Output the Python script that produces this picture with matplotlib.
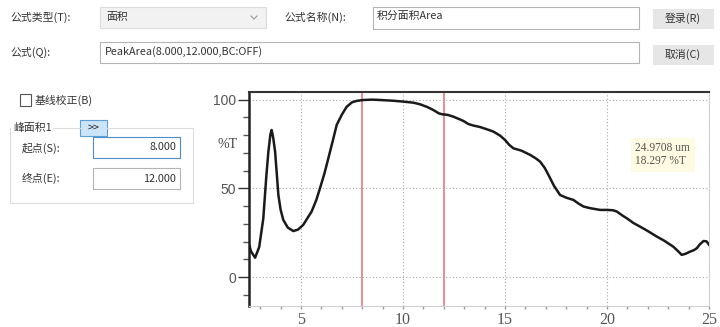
import matplotlib.pyplot as plt
from matplotlib.patches import Rectangle
from matplotlib.ticker import MultipleLocator

plt.rcParams['font.family'] = ['Noto Sans CJK SC', 'DejaVu Sans']

# 光谱数据 (波长 um, %T)
wavelength = [2.42, 2.55, 2.75, 2.95, 3.15, 3.30, 3.40, 3.50, 3.56, 3.63, 3.73, 3.82,
              3.89, 4.00, 4.13, 4.35, 4.62, 4.85, 5.11, 5.30, 5.52, 5.75, 5.93, 6.15,
              6.34, 6.55, 6.75, 7.00, 7.24, 7.50, 7.73, 8.05, 8.50, 8.87, 9.50, 10.0,
              10.5, 10.83, 11.2, 11.48, 11.75, 11.9, 12.2, 12.47, 12.7, 12.96, 13.2,
              13.45, 13.77, 14.19, 14.43, 14.75, 15.0, 15.2, 15.41, 15.8, 16.23, 16.5,
              16.72, 16.95, 17.13, 17.4, 17.7, 18.0, 18.36, 18.6, 18.85, 19.17, 19.66,
              20.0, 20.3, 20.48, 20.75, 20.97, 21.3, 21.62, 22.0, 22.44, 22.8, 23.25,
              23.5, 23.66, 23.85, 24.07, 24.25, 24.4, 24.55, 24.73, 24.88, 25.0]
transmittance = [20.0, 14.5, 11.0, 17.0, 33.0, 57.0, 70.7, 80.5, 82.9, 79.0, 70.7, 57.0,
                 46.3, 38.0, 32.3, 28.0, 26.0, 26.8, 29.5, 33.0, 37.0, 43.5, 50.1, 58.5,
                 67.0, 76.5, 85.8, 91.5, 96.0, 98.5, 99.3, 99.8, 100.0, 99.8, 99.4, 98.9,
                 98.3, 97.4, 95.8, 94.2, 92.3, 91.8, 91.4, 90.4, 89.3, 88.0, 86.3,
                 85.4, 84.6, 83.0, 82.0, 79.8, 77.3, 74.6, 72.6, 71.3, 68.9, 67.0,
                 65.1, 61.5, 57.6, 51.5, 46.3, 44.8, 43.5, 41.5, 39.8, 38.9, 37.9,
                 37.9, 37.7, 37.0, 34.8, 33.2, 30.5, 28.5, 26.0, 22.9, 20.6, 17.2,
                 14.5, 12.6, 13.2, 14.4, 15.2, 16.3, 18.5, 20.4, 20.2, 18.3]
peak_bounds = [8.0, 12.0]
cursor_text = "24.9708 um\n18.297 %T"

fig = plt.figure(figsize=(7.2, 3.27), dpi=100)
fig.patch.set_facecolor('white')

# -----------------------------
# 界面部分 (像素坐标)
# -----------------------------
ui = fig.add_axes([0, 0, 1, 1])
ui.set_xlim(0, 720)
ui.set_ylim(327, 0)
ui.axis('off')

txt = '#333333'
fs = 7.8


def box(x0, y0, x1, y1, fc='white', ec='#b4b4b4', lw=0.8):
    ui.add_patch(Rectangle((x0, y0), x1 - x0, y1 - y0, facecolor=fc, edgecolor=ec, lw=lw))


ui.text(10, 17, "公式类型(T):", fontsize=fs, color=txt, va='center')
box(100, 7, 266, 28, fc='#f2f2f2', ec='#dcdcdc')
ui.text(106, 17, "面积", fontsize=fs, color=txt, va='center')
# 下拉箭头
ui.plot([251, 254, 257], [16, 19, 16], color='#9a9a9a', lw=0.8)
ui.text(284, 17, "公式名称(N):", fontsize=fs, color=txt, va='center')
box(373, 7, 639, 29)
ui.text(377, 16, "积分面积Area", fontsize=fs, color=txt, va='center')
box(653, 9, 713, 28, fc='#e6e6e6', ec='#e6e6e6')
ui.text(683, 18.5, "登录(R)", fontsize=fs, color=txt, va='center', ha='center')

ui.text(10, 52, "公式(Q):", fontsize=fs, color=txt, va='center')
box(100, 42, 639, 63)
ui.text(105, 52, "PeakArea(8.000,12.000,BC:OFF)", fontsize=fs, color=txt, va='center')
box(653, 45, 713, 64, fc='#e6e6e6', ec='#e6e6e6')
ui.text(683, 54.5, "取消(C)", fontsize=fs, color=txt, va='center', ha='center')

box(20, 94, 31, 106, ec='#555555')
ui.text(35, 100, "基线校正(B)", fontsize=fs, color=txt, va='center')

ui.plot([10, 10, 193, 193], [128, 203, 203, 128], color='#dcdcdc', lw=0.8)
ui.plot([53, 80], [128, 128], color='#dcdcdc', lw=0.8)
ui.plot([107, 193], [128, 128], color='#dcdcdc', lw=0.8)
ui.text(13, 128, "峰面积1", fontsize=fs, color=txt, va='center')
box(80, 120, 107, 136, fc='#cce4f7', ec='#5a9fd8')
ui.text(93.5, 128, ">>", fontsize=fs, color='#222222', va='center', ha='center')

ui.text(22, 148, "起点(S):", fontsize=fs, color=txt, va='center')
box(93, 137, 180, 158, ec='#4a8fd0')
ui.text(176, 147.5, "8.000", fontsize=fs, color=txt, va='center', ha='right')
ui.text(22, 178, "终点(E):", fontsize=fs, color=txt, va='center')
box(93, 168, 180, 189, ec='#b4b4b4')
ui.text(176, 178.5, "12.000", fontsize=fs, color=txt, va='center', ha='right')

# -----------------------------
# 光谱图
# -----------------------------
ax = fig.add_axes([249 / 720, 1 - 306 / 327, 460 / 720, 214 / 327])
ax.set_facecolor('white')
ax.plot(wavelength, transmittance, color='#1a1a1a', lw=1.8, zorder=3)
for xb in peak_bounds:
    ax.axvline(xb, color='#e8848c', lw=1.3, zorder=2)

ax.set_xlim(2.45, 25)
ax.set_ylim(-16.2, 104.3)
ax.set_xticks([5, 10, 15, 20, 25])
ax.xaxis.set_minor_locator(MultipleLocator(1))
ax.set_yticks([0, 50, 100])
ax.yaxis.set_minor_locator(MultipleLocator(10))

ax.grid(True, which='major', linestyle=(0, (1, 2)), color='#a8a8a8', lw=0.8)
ax.tick_params(axis='y', which='major', length=8, width=1, color='#333333',
               labelsize=10, labelcolor='#555555', pad=1.5)
ax.tick_params(axis='y', which='minor', length=4, width=1, color='#555555')
ax.tick_params(axis='x', which='both', length=2.5, width=1, color='#9a9a9a',
               labelsize=11.5, labelcolor='#555555', pad=2)
for lab in ax.get_xticklabels():
    lab.set_family('Liberation Serif')
for lab in ax.get_yticklabels():
    lab.set_family('Liberation Sans')

ax.spines['left'].set_color('#222222')
ax.spines['left'].set_linewidth(1.8)
ax.spines['top'].set_color('#333333')
ax.spines['top'].set_linewidth(1.5)
ax.spines['bottom'].set_color('#d0d0d0')
ax.spines['bottom'].set_linewidth(0.8)
ax.spines['right'].set_color('#d0d0d0')
ax.spines['right'].set_linewidth(0.8)

ui.text(228, 145, "%T", fontsize=10, color='#444444', va='center', ha='center',
        family='Liberation Serif')

ax.text(0.84, 0.765, cursor_text, transform=ax.transAxes, fontsize=8.3,
        color='#555555', va='top', ha='left', family='Liberation Serif', linespacing=1.1,
        bbox=dict(boxstyle='square,pad=0.4', facecolor='#fffbe2', edgecolor='none'))

fig.savefig('out.png', dpi=100)
